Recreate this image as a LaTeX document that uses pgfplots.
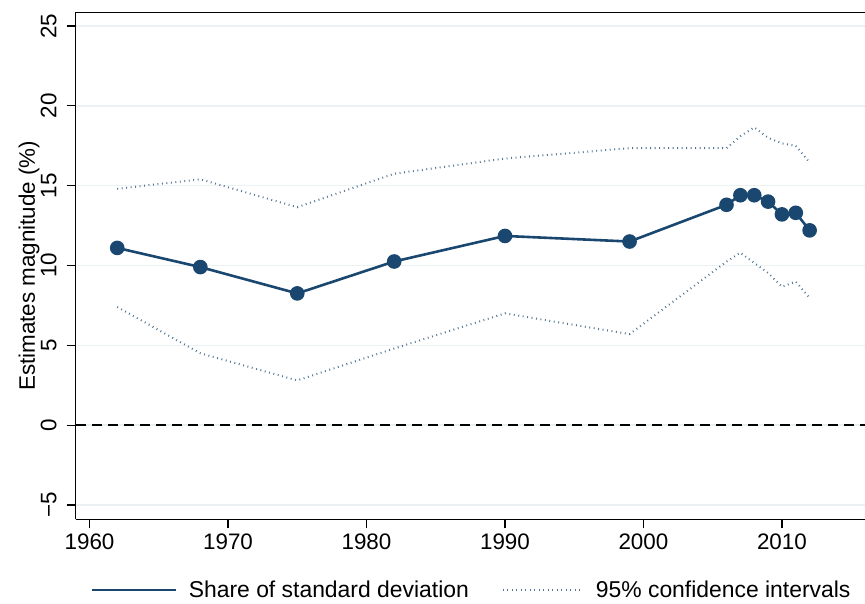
\documentclass[border=0pt]{standalone}
\usepackage{fontspec}
\setmainfont{Liberation Sans}
\usepackage{pgfplots}
\pgfplotsset{compat=1.18}
\definecolor{navy}{HTML}{1A476F}
\definecolor{gridc}{HTML}{EAF2F3}
\begin{document}
\begin{tikzpicture}[font=\fontsize{22.4}{26}\selectfont]
\begin{axis}[
  name=ax,
  scale only axis, width=789.3pt, height=507pt,
  xmin=1959, xmax=2016, ymin=-5.9, ymax=25.86,
  axis x line*=bottom, axis y line*=left,
  axis line style={-, line width=1.2pt, black},
  xtick={1960,1970,1980,1990,2000,2010},
  xticklabels={1960,1970,1980,1990,2000,2010},
  ytick={-5,0,5,10,15,20,25},
  yticklabels={−5,0,5,10,15,20,25},
  tick align=outside, major tick length=9pt,
  tick style={black, line width=1.2pt},
  ymajorgrids, grid style={gridc, line width=1.5pt},
  xticklabel style={anchor=north, inner sep=0pt, yshift=-5pt},
  yticklabel style={xshift=-10pt, rotate=90, anchor=south, inner sep=0pt},
  ylabel={Estimates magnitude (\%)},
  every axis y label/.style={at={(rel axis cs:0,0.5)}, xshift=-46.7pt, rotate=90, anchor=center},
  legend style={at={(0.5,-0.1395)}, anchor=center, draw=none, fill=none,
    legend columns=2, nodes={inner sep=0pt}, font=\fontsize{22.9}{26}\selectfont,
    /tikz/every odd column/.append style={column sep=12pt},
    /tikz/every even column/.append style={column sep=33pt}},
]
\addplot[black, line width=1.8pt, dash pattern=on 10pt off 6pt, forget plot] coordinates {(1959,0) (2016,0)};
\addplot[navy, line width=2.6pt, mark=*, mark size=6pt, mark options={solid, fill=navy},
  legend image code/.code={\draw[navy, line width=2.6pt] (0pt,0pt) -- (84pt,0pt);}]
  coordinates {(1962,11.1)(1968,9.9)(1975,8.25)(1982,10.25)(1990,11.85)(1999,11.5)(2006,13.8)(2007,14.4)(2008,14.4)(2009,14.0)(2010,13.2)(2011,13.3)(2012,12.2)};
\addlegendentry{Share of standard deviation}
\addplot[navy!75, line width=2pt, dash pattern=on 0.9pt off 3.6pt,
  legend image code/.code={\draw[navy!75, line width=2pt, dash pattern=on 0.9pt off 3.6pt] (0pt,0pt) -- (80pt,0pt);}]
  coordinates {(1962,14.8)(1968,15.4)(1975,13.65)(1982,15.75)(1990,16.7)(1999,17.35)(2006,17.35)(2007,18.1)(2008,18.65)(2009,18.0)(2010,17.65)(2011,17.5)(2012,16.45)};
\addlegendentry{95\% confidence intervals}
\addplot[navy!75, line width=2pt, dash pattern=on 0.9pt off 3.6pt, forget plot]
  coordinates {(1962,7.4)(1968,4.5)(1975,2.8)(1982,4.8)(1990,7.0)(1999,5.7)(2006,10.24)(2007,10.8)(2008,10.16)(2009,9.53)(2010,8.67)(2011,8.99)(2012,7.97)};
\draw[line width=1.2pt] (rel axis cs:0,1) -- (rel axis cs:1,1);
\end{axis}
\pgfresetboundingbox
\path[use as bounding box] ([shift={(-75.7pt,-83.7pt)}]ax.south west) rectangle ([shift={(0pt,12.3pt)}]ax.north east);
\end{tikzpicture}
\end{document}
